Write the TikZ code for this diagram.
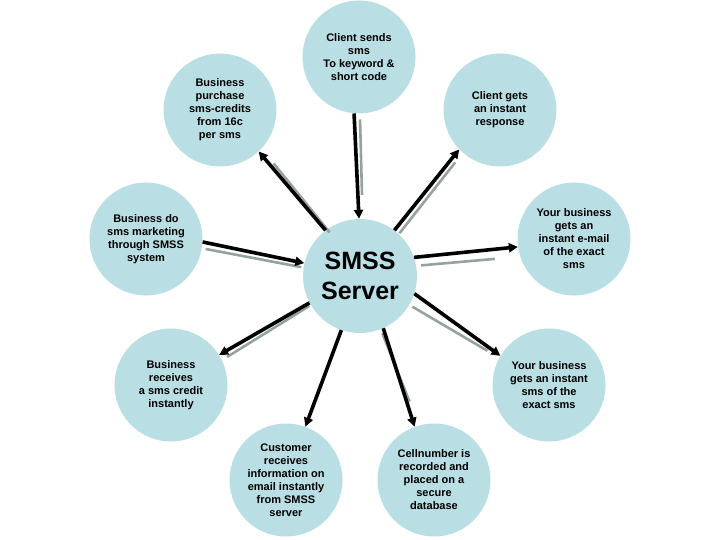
\documentclass[tikz,border=0pt]{standalone}
\usepackage{fontspec}
\setmainfont{Liberation Sans}
\usetikzlibrary{arrows.meta}
\definecolor{bubble}{RGB}{185,222,227}
\definecolor{shadowgray}{RGB}{150,162,162}
\begin{document}
\begin{tikzpicture}[x=1pt,y=-1pt,
  bub/.style={circle,fill=bubble,minimum size=113pt,inner sep=0pt,align=center,
    font=\fontsize{11}{13}\selectfont\bfseries},
  hub/.style={circle,fill=bubble,minimum size=114pt,inner sep=0pt,align=center,
    font=\fontsize{25}{30}\selectfont\bfseries},
  arr/.style={line width=3.6pt,-{Triangle[length=9pt,width=9pt]}},
  shd/.style={line width=2.6pt,draw=shadowgray}]
\useasboundingbox (0,0) rectangle (720,540);
\node[hub] (c) at (360,276) {SMSS\\Server};
\node[bub] (t) at (359,57) {Client sends\\sms\\To keyword \&\\short code};
\node[bub] (tl) at (220,110) {Business\\purchase\\sms-credits\\from 16c\\per sms};
\node[bub] (tr) at (500,110) {Client gets\\an instant\\response};
\node[bub] (l) at (146,239) {Business do\\sms marketing\\through SMSS\\system};
\node[bub] (r) at (574,239) {Your business\\gets an\\instant e-mail\\of the exact\\sms};
\node[bub] (bl) at (171,385) {Business\\receives\\a sms credit\\instantly};
\node[bub] (br) at (549,385) {Your business\\gets an instant\\sms of the\\exact sms};
\node[bub] (b) at (286,480) {Customer\\receives\\information on\\email instantly\\from SMSS\\server};
\node[bub] (br2) at (434,480) {Cellnumber is\\recorded and\\placed on a\\secure\\database};
% shadows
\draw[shd] ([shift={(6,6)}]t.265) -- ([shift={(3,-24)}]c.91);
\draw[shd] ([shift={(4,2)}]c.127) -- ([shift={(15,12)}]tl.313);
\draw[shd] ([shift={(3,7)}]l.-3) -- ([shift={(-3,4)}]c.167);
\draw[shd] ([shift={(5,3)}]c.53.5) -- ([shift={(-4,13)}]tr.224);
\draw[shd] ([shift={(7,8)}]c.19) -- ([shift={(-23,12)}]r.188);
\draw[shd] ([shift={(0,3)}]c.208) -- ([shift={(8,2)}]bl.32.5);
\draw[shd] ([shift={(-2,13)}]c.342) -- ([shift={(-13,-5)}]br.149);
\draw[shd] ([shift={(-1,5)}]c.294) -- ([shift={(-5,-25)}]br2.110);
% arrows
\draw[arr] (t.265) -- (c.91);
\draw[arr] (c.127) -- (tl.313);
\draw[arr] (l.-3) -- (c.167);
\draw[arr] (c.53.5) -- (tr.224);
\draw[arr] (c.19) -- (r.188);
\draw[arr] (c.208) -- (bl.32.5);
\draw[arr] (c.251.5) -- (b.70);
\draw[arr] (c.342) -- (br.149);
\draw[arr] (c.294) -- (br2.110);
\end{tikzpicture}
\end{document}
